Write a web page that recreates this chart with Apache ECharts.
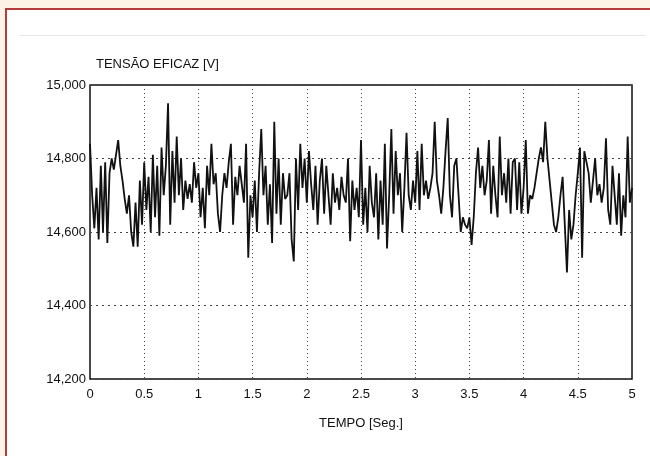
<!DOCTYPE html>
<html lang="pt">
<head>
    <meta charset="utf-8">
    <title>Tensão eficaz</title>
    <style>
        html, body { margin: 0; padding: 0; background: #fcf2e5; overflow: hidden; width: 650px; height: 456px; }
        #frame { position: absolute; left: 5px; top: 8px; width: 700px; height: 500px;
                 background: #fff; border-left: 2px solid #b33b3b; border-top: 2px solid #b33b3b; }
        #rule { position: absolute; left: 20px; top: 35px; width: 626px; height: 1px; background: #e6e6e6; }
        #main { position: absolute; left: 0; top: 0; width: 650px; height: 456px; }
    </style>
</head>
<body>
    <div id="frame"></div>
    <div id="rule"></div>
    <div id="main"></div>

    <script src="https://cdn.jsdelivr.net/npm/echarts@6/dist/echarts.min.js"></script>
    <script type="text/javascript">

        // tensão eficaz [V], amostras de 0 a 5 s
        var tensao = [
            14840, 14700, 14610, 14720, 14580, 14780, 14600, 14790, 14570, 14760,
            14800, 14770, 14810, 14850, 14780, 14740, 14690, 14650, 14700, 14600,
            14560, 14680, 14560, 14740, 14620, 14790, 14660, 14750, 14600, 14810,
            14640, 14780, 14590, 14830, 14700,
            14780, 14950, 14620, 14820, 14680, 14860, 14700, 14800, 14660, 14740,
            14690, 14730, 14680, 14790, 14720, 14760, 14640, 14720, 14610, 14780,
            14700, 14840, 14730, 14760, 14650, 14600, 14700, 14760, 14720, 14790,
            14840, 14620, 14750, 14700, 14780, 14730,
            14680, 14840, 14530, 14700, 14640, 14740, 14600, 14760, 14880, 14700,
            14780, 14620, 14730, 14570, 14900, 14650, 14800, 14620, 14760, 14690,
            14700, 14760, 14580, 14520, 14800, 14660, 14840, 14720, 14800, 14680,
            14820, 14730, 14660, 14780, 14620, 14740,
            14800, 14650, 14780, 14700, 14620, 14760, 14680, 14720, 14660, 14750,
            14700, 14680, 14800, 14575, 14740, 14660, 14720, 14640, 14850, 14620,
            14720, 14600, 14780, 14680, 14640, 14760, 14580, 14740, 14620, 14840,
            14555, 14700, 14880, 14650, 14820, 14700, 14760,
            14600, 14720, 14870, 14700, 14660, 14740, 14680, 14820, 14660, 14840,
            14700, 14740, 14690, 14720, 14760, 14900, 14740, 14700, 14650, 14720,
            14820, 14910, 14700, 14640, 14780, 14800, 14700, 14600, 14640, 14620,
            14610, 14640, 14565, 14640, 14760, 14830,
            14720, 14780, 14700, 14740, 14850, 14650, 14780, 14700, 14640, 14860,
            14700, 14760, 14680, 14800, 14650, 14790, 14800, 14660, 14790, 14650,
            14720, 14850, 14650, 14700, 14690, 14720, 14760, 14800, 14830, 14790,
            14900, 14800, 14740, 14680, 14620, 14600,
            14640, 14700, 14750, 14620, 14490, 14660, 14580, 14620, 14700, 14760,
            14830, 14530, 14820, 14790, 14760, 14680, 14740, 14800, 14700, 14730,
            14680, 14720, 14855, 14660, 14620, 14780, 14700, 14620, 14760, 14590,
            14700, 14640, 14860, 14680, 14720
        ];
        var duracao = 5;   // segundos
        var yTicks = [14200, 14400, 14600, 14800, 15000];

        var pontos = tensao.map(function (v, i) {
            return [i * duracao / (tensao.length - 1), v];
        });

        var fonte = 'Liberation Sans';
        var myChart = echarts.init(document.getElementById('main'));

        var option = {
            backgroundColor: 'transparent',
            animation: false,
            title: {
                text: 'TENSÃO EFICAZ [V]',
                left: 91,
                top: 53,
                textStyle: { fontFamily: fonte, fontSize: 13, fontWeight: 'normal', color: '#111' }
            },
            grid: {
                left: 90, right: 18, top: 85, bottom: 77,
                show: true,
                borderColor: '#111',
                borderWidth: 1.5
            },
            xAxis: {
                type: 'value',
                min: 0,
                max: duracao,
                interval: 0.5,
                name: 'TEMPO [Seg.]',
                nameLocation: 'middle',
                nameGap: 38,
                nameTextStyle: { fontFamily: fonte, fontSize: 13, color: '#111' },
                axisLine: { show: false },
                axisTick: { show: false },
                axisLabel: { fontFamily: fonte, fontSize: 13, color: '#111', margin: 9 },
                splitLine: { show: true, lineStyle: { color: '#444', type: [1, 3], width: 1 } }
            },
            yAxis: {
                type: 'value',
                min: yTicks[0],
                max: yTicks[yTicks.length - 1],
                interval: 200,
                axisLine: { show: false },
                axisTick: { show: false },
                axisLabel: {
                    fontFamily: fonte, fontSize: 13, color: '#111', margin: 4,
                    formatter: function (v) {
                        return String(v).replace(/(\d{2})(\d{3})$/, '$1,$2');
                    }
                },
                splitLine: { show: true, lineStyle: { color: '#444', type: [2, 4], width: 1 } }
            },
            series: [{
                type: 'line',
                data: pontos,
                showSymbol: false,
                lineStyle: { color: '#111', width: 1.8 }
            }]
        };
        myChart.setOption(option);
    </script>
</body>
</html>
